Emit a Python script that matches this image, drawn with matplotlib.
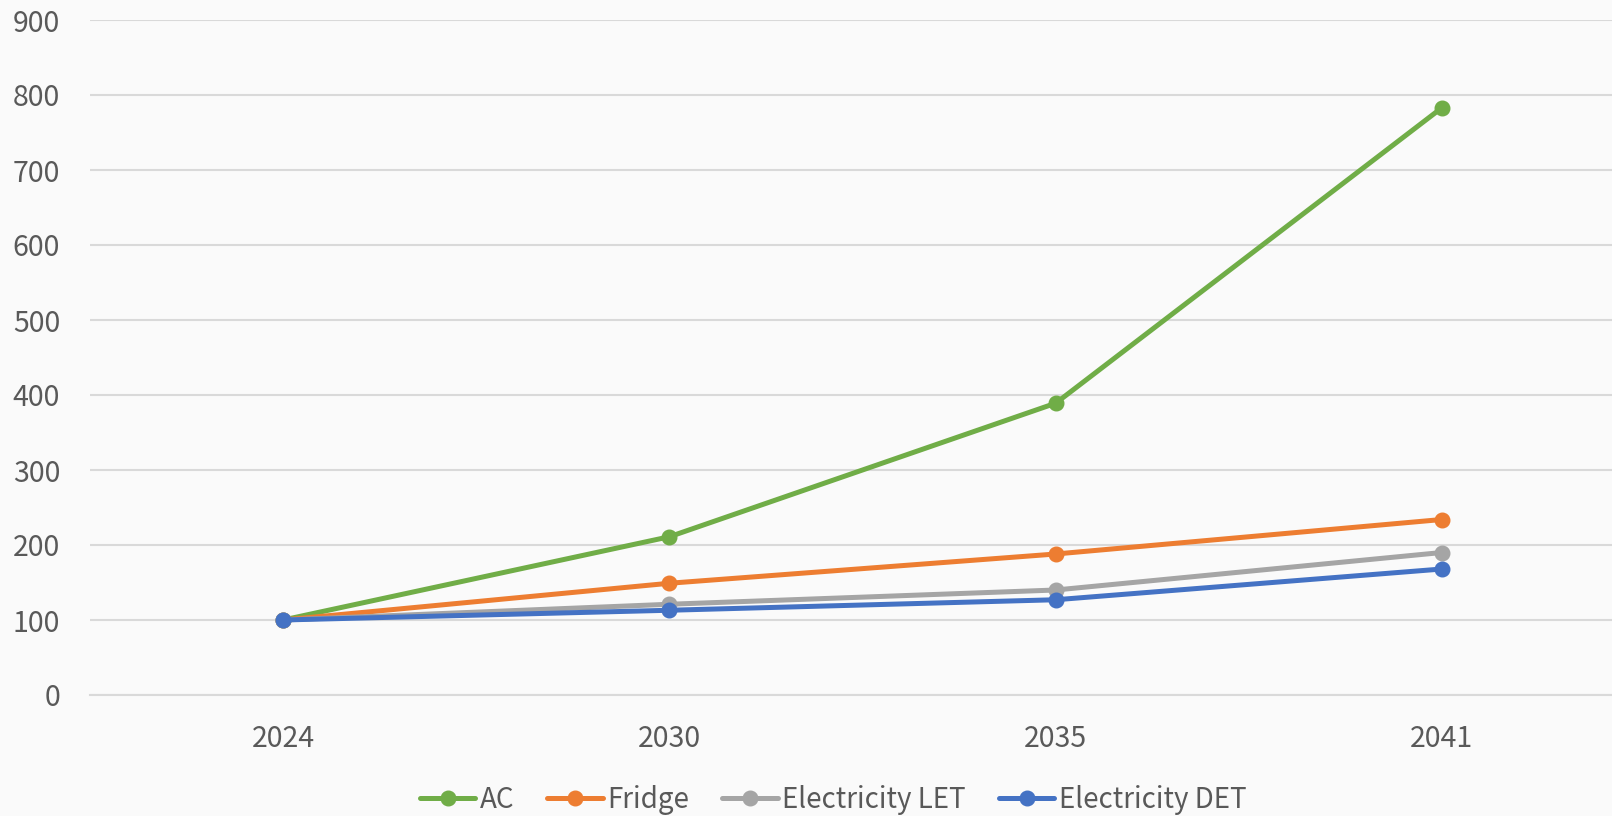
import matplotlib
matplotlib.use('Agg')
from matplotlib import pyplot as plt

years = ['2024', '2030', '2035', '2041']
ac = [100, 211, 389, 783]
fridge = [100, 149, 188, 234]
elec_let = [100, 121, 140, 190]
elec_det = [100, 113, 127, 168]

series = [
    ('AC', ac, '#70AD47'),
    ('Fridge', fridge, '#ED7D31'),
    ('Electricity LET', elec_let, '#A5A5A5'),
    ('Electricity DET', elec_det, '#4472C4'),
]

plt.rcParams['font.family'] = ['Noto Sans CJK KR', 'DejaVu Sans']
plt.rcParams['font.weight'] = 'medium'
text_color = '#595959'

fig = plt.figure(figsize=(16.12, 8.16), dpi=100, facecolor='#FAFAFA')
# plot area runs past the right edge of the canvas
ax = fig.add_axes([90 / 1612, 121 / 816, 1545 / 1612, 675 / 816])
ax.set_facecolor('#FAFAFA')

x = range(len(years))
for name, vals, color in series:
    ax.plot(x, vals, color=color, lw=3.6, marker='o', ms=10.5,
            label=name, solid_capstyle='round', clip_on=False)

ax.set_xlim(-0.5, 3.5)
ax.set_ylim(0, 900)
ax.set_yticks(range(0, 901, 100))
ax.set_xticks(list(x))
ax.set_xticklabels(years)
ax.grid(axis='y', color='#D9D9D9', lw=1.5)
ax.set_axisbelow(True)
for s in ['top', 'right', 'left']:
    ax.spines[s].set_visible(False)
ax.spines['bottom'].set_color('#D9D9D9')
ax.spines['bottom'].set_linewidth(1.5)
ax.tick_params(axis='both', length=0, labelsize=20.5, colors=text_color)
ax.tick_params(axis='y', pad=21.5)
ax.tick_params(axis='x', pad=21)

leg = fig.legend(loc='center', bbox_to_anchor=(833 / 1612, 16 / 816), ncol=4,
                 frameon=False, fontsize=20, handlelength=2.0,
                 handletextpad=0.15, columnspacing=1.2, borderpad=0)
for t in leg.get_texts():
    t.set_color(text_color)

fig.savefig('out.png', dpi=100, facecolor=fig.get_facecolor())
